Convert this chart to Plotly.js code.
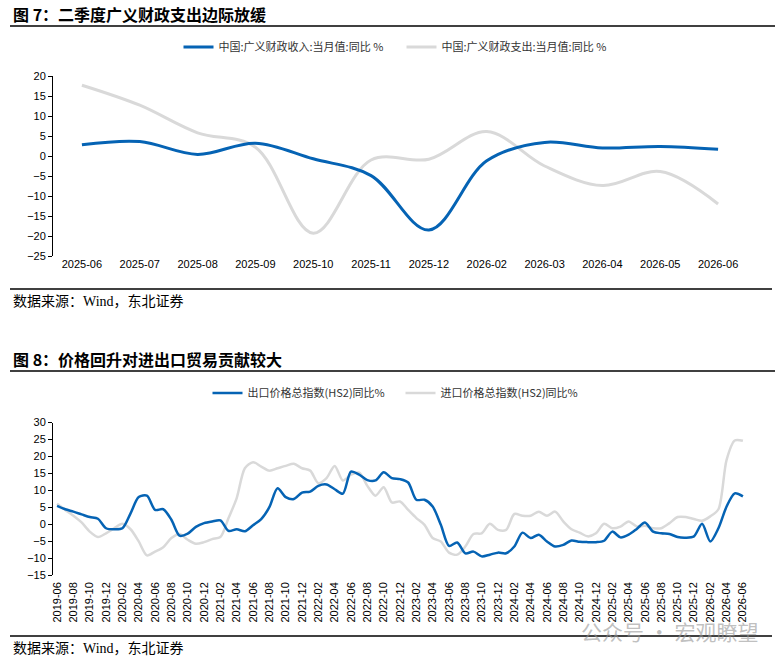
<!DOCTYPE html>
<html><head><meta charset="utf-8">
<script src="https://cdn.plot.ly/plotly-3.0.1.min.js"></script>
<style>html,body{margin:0;padding:0;background:#fff}#chart{width:782px;height:662px}</style>
</head><body><div id="chart"></div>
<script>
// ---- Chart 7 data ----
const cats1 = ['2025-06','2025-07','2025-08','2025-09','2025-10','2025-11','2025-12','2026-02','2026-03','2026-04','2026-05','2026-06'];
const fiscalRevenue = [2.8, 3.6, 0.4, 3.2, -0.7, -4.9, -18.5, -1.2, 3.4, 2.0, 2.4, 1.7];
const fiscalExpenditure = [17.7, 12.7, 5.8, 2.2, -19.3, -1.0, -0.8, 6.1, -2.5, -7.4, -3.9, -12.0];
const legend1Labels = ['中国:广义财政收入:当月值:同比 %', '中国:广义财政支出:当月值:同比 %'];

// ---- Chart 8 data ----
const months2 = [
 '2019-06','2019-07','2019-08','2019-09','2019-10','2019-11','2019-12',
 '2020-01','2020-02','2020-03','2020-04','2020-05','2020-06','2020-07','2020-08','2020-09','2020-10','2020-11','2020-12',
 '2021-01','2021-02','2021-03','2021-04','2021-05','2021-06','2021-07','2021-08','2021-09','2021-10','2021-11','2021-12',
 '2022-01','2022-02','2022-03','2022-04','2022-05','2022-06','2022-07','2022-08','2022-09','2022-10','2022-11','2022-12',
 '2023-01','2023-02','2023-03','2023-04','2023-05','2023-06','2023-07','2023-08','2023-09','2023-10','2023-11','2023-12',
 '2024-01','2024-02','2024-03','2024-04','2024-05','2024-06','2024-07','2024-08','2024-09','2024-10','2024-11','2024-12',
 '2025-01','2025-02','2025-03','2025-04','2025-05','2025-06','2025-07','2025-08','2025-09','2025-10','2025-11','2025-12',
 '2026-01','2026-02','2026-03','2026-04','2026-05','2026-06'];
const exportPrice = [
 5.4, 4.4, 3.7, 2.9, 2.1, 1.6, -1.2,
 -1.5, -1.2, 3.2, 8.0, 8.4, 4.2, 4.4, 1.3, -3.4, -2.8, -0.8, 0.3,
 0.8, 1.1, -2.0, -1.5, -2.1, -0.3, 1.5, 5.0, 10.6, 8.0, 7.4, 9.3,
 9.6, 11.3, 11.7, 10.3, 9.0, 15.5, 14.6, 13.0, 12.9, 15.3, 13.6, 13.3,
 12.3, 7.2, 7.2, 5.2, -0.2, -6.4, -5.4, -8.6, -8.1, -9.5, -9.0, -8.4,
 -8.6, -6.6, -2.5, -4.1, -3.1, -5.1, -6.6, -6.1, -4.8, -5.2, -5.3, -5.3,
 -4.9, -2.2, -3.9, -3.1, -1.4, 0.5, -2.2, -2.7, -2.9, -3.8, -4.0, -3.6,
 0.1, -5.1, -1.2, 5.2, 9.1, 8.2];
const importPrice = [
 6.0, 4.2, 2.5, 0.5, -2.2, -3.8, -2.7,
 -1.2, 0.1, -1.5, -5.1, -9.2, -8.1, -6.8, -4.1, -2.9, -4.6, -5.8, -5.3,
 -4.4, -3.8, 1.8, 7.7, 16.5, 18.3, 17.0, 15.8, 16.5, 17.2, 17.8, 16.5,
 15.8, 12.1, 13.6, 17.2, 12.9, 14.6, 15.2, 11.3, 8.4, 10.9, 6.4, 6.7,
 4.2, 1.8, -0.2, -4.1, -5.1, -8.4, -9.0, -6.6, -2.9, -2.7, 0.1, -1.7,
 -1.7, 3.0, 2.5, 2.5, 3.7, 2.5, 3.7, 0.8, -1.5, -2.5, -3.6, -2.7,
 0.1, -1.2, -0.7, 0.8, -0.7, -0.5, -1.2, -1.2, 0.3, 2.1, 2.1, 1.5,
 1.0, 2.3, 4.4, 19.0, 24.7, 24.6];
const legend2Labels = ['出口价格总指数(HS2)同比%', '进口价格总指数(HS2)同比%'];
const tickLabels2 = months2.filter((m, i) => i % 2 === 0);

// ---- styling / layout helpers ----
const W = 782, H = 662;
const px = v => v / W;
const py = v => 1 - v / H;
const BLUE = '#0563B4';
const GREY = '#D9D9D9';
const cjk = '"Noto Sans CJK SC", sans-serif';
const sans = '"Liberation Sans", Arial, sans-serif';
const serif = '"Liberation Serif", "Noto Sans CJK SC", serif';

const xDom = [px(53), px(747)];
const y1Dom = [py(256), py(76)];
const y2Dom = [py(575), py(422.5)];
const y1Range = [-25, 20];
const y2Range = [-15, 30];
const zero1 = y1Dom[0] + (0 - y1Range[0]) / (y1Range[1] - y1Range[0]) * (y1Dom[1] - y1Dom[0]);
const zero2 = y2Dom[0] + (0 - y2Range[0]) / (y2Range[1] - y2Range[0]) * (y2Dom[1] - y2Dom[0]);

const data = [
  {type: 'scatter', mode: 'lines', x: cats1, y: fiscalExpenditure, name: legend1Labels[1],
   xaxis: 'x', yaxis: 'y', legend: 'legend',
   line: {color: GREY, width: 3, shape: 'spline', smoothing: 1}, hoverinfo: 'x+y'},
  {type: 'scatter', mode: 'lines', x: cats1, y: fiscalRevenue, name: legend1Labels[0],
   xaxis: 'x', yaxis: 'y', legend: 'legend',
   line: {color: BLUE, width: 3, shape: 'spline', smoothing: 1}, hoverinfo: 'x+y'},
  {type: 'scatter', mode: 'lines', x: months2, y: importPrice, name: legend2Labels[1],
   xaxis: 'x3', yaxis: 'y3', legend: 'legend2',
   line: {color: GREY, width: 2.5, shape: 'spline', smoothing: 0.8}, hoverinfo: 'x+y'},
  {type: 'scatter', mode: 'lines', x: months2, y: exportPrice, name: legend2Labels[0],
   xaxis: 'x3', yaxis: 'y3', legend: 'legend2',
   line: {color: BLUE, width: 2.5, shape: 'spline', smoothing: 0.8}, hoverinfo: 'x+y'}
];

const tickFont = {family: sans, size: 11, color: '#000'};
const yCommon = {ticks: 'outside', ticklen: 4, tickcolor: '#000', showline: true, linecolor: '#000',
  linewidth: 1, showgrid: false, zeroline: false, tickfont: tickFont, dtick: 5, tick0: 0, fixedrange: true};

const layout = {
  width: W, height: H,
  margin: {l: 0, r: 0, t: 0, b: 0},
  paper_bgcolor: '#fff', plot_bgcolor: 'rgba(0,0,0,0)',
  showlegend: true,
  xaxis: {domain: xDom, anchor: 'y', type: 'category', range: [-0.5, cats1.length - 0.5],
    showline: false, ticks: '', showgrid: false, zeroline: false, tickfont: tickFont, fixedrange: true},
  yaxis: Object.assign({domain: y1Dom, anchor: 'x', range: y1Range}, yCommon),
  xaxis2: {overlaying: 'x', anchor: 'free', position: zero1, type: 'linear',
    range: [-0.5, cats1.length - 0.5], tick0: -0.5, dtick: 1, ticks: 'outside', ticklen: 4,
    tickcolor: '#000', showticklabels: false, showline: true, linecolor: '#000', linewidth: 1,
    showgrid: false, zeroline: false, fixedrange: true},
  xaxis3: {domain: xDom, anchor: 'y3', type: 'category', range: [-0.5, months2.length - 0.5],
    tickmode: 'array', tickvals: tickLabels2, ticktext: tickLabels2, tickangle: -90,
    showline: false, ticks: '', showgrid: false, zeroline: false, ticklabelstandoff: 4,
    tickfont: {family: sans, size: 11, color: '#000'}, fixedrange: true},
  yaxis3: Object.assign({domain: y2Dom, anchor: 'x3', range: y2Range}, yCommon),
  xaxis4: {overlaying: 'x3', anchor: 'free', position: zero2, type: 'linear',
    range: [-0.5, months2.length - 0.5], tick0: -0.5, dtick: 2, ticks: 'outside', ticklen: 4,
    tickcolor: '#000', showticklabels: false, showline: true, linecolor: '#000', linewidth: 1,
    showgrid: false, zeroline: false, fixedrange: true},
  legend: {orientation: 'h', x: px(401.5), xanchor: 'center', y: py(47), yanchor: 'middle',
    font: {family: cjk, size: 11, color: '#333'}, bgcolor: 'rgba(0,0,0,0)', traceorder: 'reversed',
    entrywidth: 178, entrywidthmode: 'pixels'},
  legend2: {orientation: 'h', x: px(400.5), xanchor: 'center', y: py(393), yanchor: 'middle',
    font: {family: cjk, size: 11, color: '#333'}, bgcolor: 'rgba(0,0,0,0)', traceorder: 'reversed',
    entrywidth: 148, entrywidthmode: 'pixels'},
  shapes: [
    {type: 'line', xref: 'paper', yref: 'paper', x0: px(10), x1: px(775), y0: py(26), y1: py(26), line: {color: '#000', width: 1.5}},
    {type: 'line', xref: 'paper', yref: 'paper', x0: px(10), x1: px(772), y0: py(289), y1: py(289), line: {color: '#000', width: 1.5}},
    {type: 'line', xref: 'paper', yref: 'paper', x0: px(10), x1: px(775), y0: py(371), y1: py(371), line: {color: '#000', width: 1.5}},
    {type: 'line', xref: 'paper', yref: 'paper', x0: px(10), x1: px(772), y0: py(636), y1: py(636), line: {color: '#000', width: 1.5}}
  ],
  annotations: [
    {text: '<b>图 7：二季度广义财政支出边际放缓</b>', xref: 'paper', yref: 'paper', x: px(11), y: py(14),
     xanchor: 'left', yanchor: 'middle', showarrow: false, font: {family: cjk, size: 16, color: '#000'}},
    {text: '数据来源：Wind，东北证券', xref: 'paper', yref: 'paper', x: px(11), y: py(301),
     xanchor: 'left', yanchor: 'middle', showarrow: false, font: {family: serif, size: 14, color: '#000'}},
    {text: '<b>图 8：价格回升对进出口贸易贡献较大</b>', xref: 'paper', yref: 'paper', x: px(11), y: py(359),
     xanchor: 'left', yanchor: 'middle', showarrow: false, font: {family: cjk, size: 16, color: '#000'}},
    {text: '数据来源：Wind，东北证券', xref: 'paper', yref: 'paper', x: px(11), y: py(648),
     xanchor: 'left', yanchor: 'middle', showarrow: false, font: {family: serif, size: 14, color: '#000'}},
    {text: '公众号 · 宏观瞭望', xref: 'paper', yref: 'paper', x: px(760), y: py(631),
     xanchor: 'right', yanchor: 'middle', showarrow: false, font: {family: cjk, size: 21, color: 'rgba(150,150,150,0.6)'}}
  ]
};

Plotly.newPlot('chart', data, layout, {displayModeBar: false, staticPlot: true});
</script></body></html>
